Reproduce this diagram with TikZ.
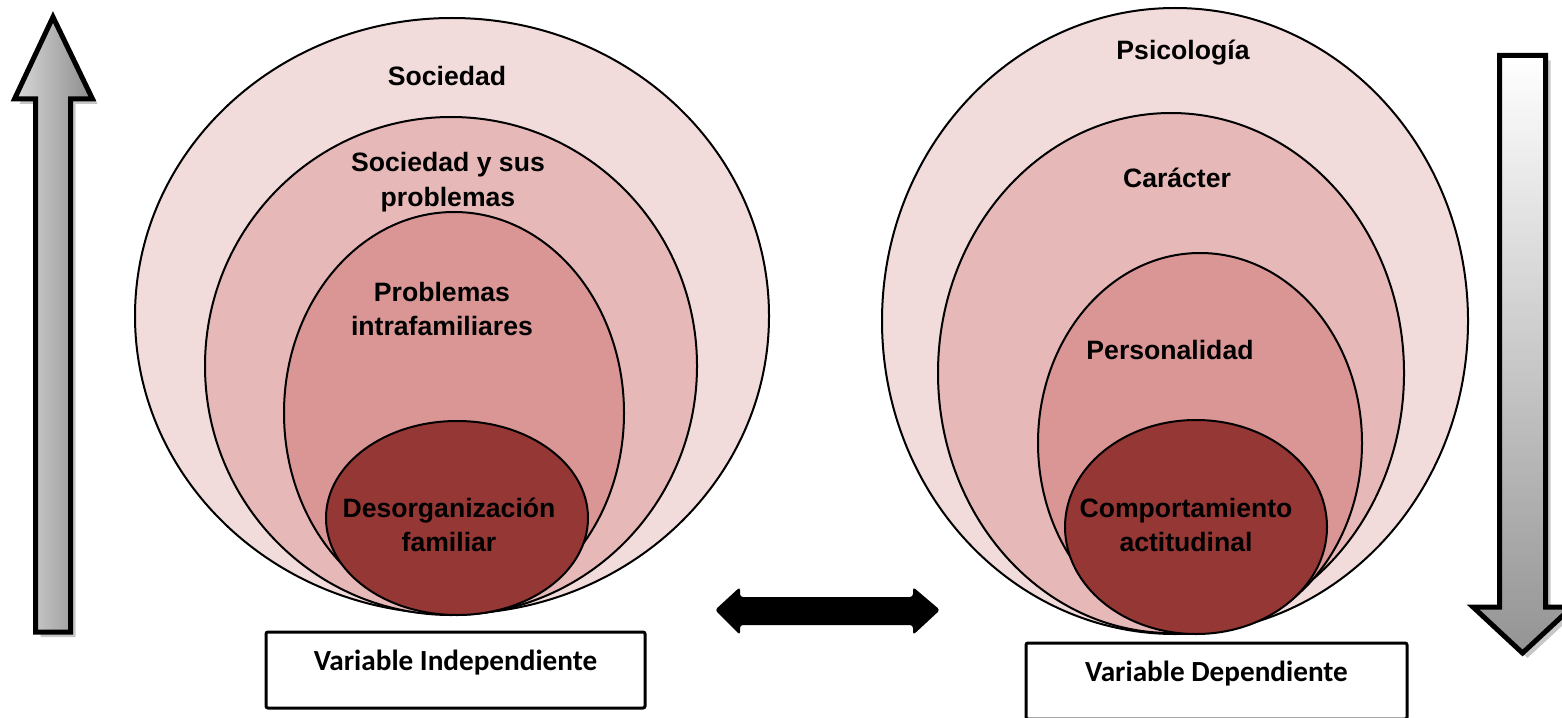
\documentclass[tikz,border=0pt]{standalone}
\usepackage{fontspec}
\setmainfont{Liberation Sans}
\newfontfamily\cajafont{Carlito}
\usetikzlibrary{shapes.geometric}
\definecolor{capa1}{HTML}{F2DCDB}
\definecolor{capa2}{HTML}{E6B9B8}
\definecolor{capa3}{HTML}{D99694}
\definecolor{capa4}{HTML}{953735}
\tikzset{
  capa/.style={ellipse,draw,line width=1pt,inner sep=0pt,outer sep=0pt},
  etiqueta/.style={font=\bfseries\fontsize{13.3}{17.3}\selectfont,align=center},
  caja/.style={draw,line width=1.5pt,rounded corners=1pt,inner sep=0pt,
    text height=10pt,text depth=10pt,
    font=\cajafont\bfseries\fontsize{14.6}{17}\selectfont},
  flecha/.style={draw=black,line width=2.5pt,line join=miter},
  sombra/.style={fill=black!22}
}
\begin{document}
\begin{tikzpicture}[x=0.5pt,y=-0.5pt]
\useasboundingbox (0,0) rectangle (1562,717);
\clip (0,0) rectangle (1562,717);

% variable independiente
\node[capa,fill=capa1,minimum width=317pt,minimum height=298pt] (soc) at (452,316) {};
\node[capa,fill=capa2,minimum width=246pt,minimum height=249pt] (socprob) at (451,366) {};
\node[capa,fill=capa3,minimum width=170pt,minimum height=201pt] (intra) at (454,413) {};
\node[capa,fill=capa4,minimum width=131pt,minimum height=97pt] (desorg) at (457,518) {};
\node[etiqueta] (lsoc) at (447,76) {Sociedad};
\node[etiqueta] (lsocprob) at (448,182) {Sociedad y sus\\problemas};
\node[etiqueta] (lintra) at (442,309) {Problemas\\intrafamiliares};
\node[etiqueta] (ldesorg) at (449,525) {Desorganización\\familiar};
\node[caja,minimum width=189.5pt,minimum height=38pt] (vind) at (455.5,670) {Variable Independiente};

% variable dependiente
\node[capa,fill=capa1,minimum width=293pt,minimum height=313pt] (psico) at (1175,321) {};
\node[capa,fill=capa2,minimum width=233pt,minimum height=260pt] (caract) at (1171,373) {};
\node[capa,fill=capa3,minimum width=162pt,minimum height=190pt] (person) at (1200,443) {};
\node[capa,fill=capa4,minimum width=131pt,minimum height=107pt] (comport) at (1196,527) {};
\node[etiqueta] (lpsico) at (1183,53) {Psicología};
\node[etiqueta] (lcaract) at (1177,178) {Carácter};
\node[etiqueta] (lperson) at (1170,350) {Personalidad};
\node[etiqueta] (lcomport) at (1186,525) {Comportamiento\\actitudinal};
\node[caja,minimum width=190.5pt,minimum height=38pt] (vdep) at (1216.5,681) {Variable Dependiente};

% flecha hacia arriba
\fill[sombra,shift={(5,5)}] (35.5,632) -- (35.5,99) -- (14.5,99) -- (53,17) -- (92.5,99) -- (70.5,99) -- (70.5,632) -- cycle;
\path[flecha,left color=black!15,right color=black!45] (35.5,632) -- (35.5,99) -- (14.5,99) -- (53,17) -- (92.5,99) -- (70.5,99) -- (70.5,632) -- cycle;

% flecha hacia abajo
\fill[sombra,shift={(5,5)}] (1499.5,55.5) -- (1545.5,55.5) -- (1545.5,607) -- (1572,607) -- (1522.5,653) -- (1473,607) -- (1499.5,607) -- cycle;
\path[flecha,top color=white,bottom color=black!42] (1499.5,55.5) -- (1545.5,55.5) -- (1545.5,607) -- (1572,607) -- (1522.5,653) -- (1473,607) -- (1499.5,607) -- cycle;

% relacion entre variables
\fill[rounded corners=1.5pt] (715,610) -- (740,587) -- (740,597) -- (913,597) -- (913,587) -- (940,610) -- (913,635) -- (913,625) -- (740,625) -- (740,635) -- cycle;
\end{tikzpicture}
\end{document}
